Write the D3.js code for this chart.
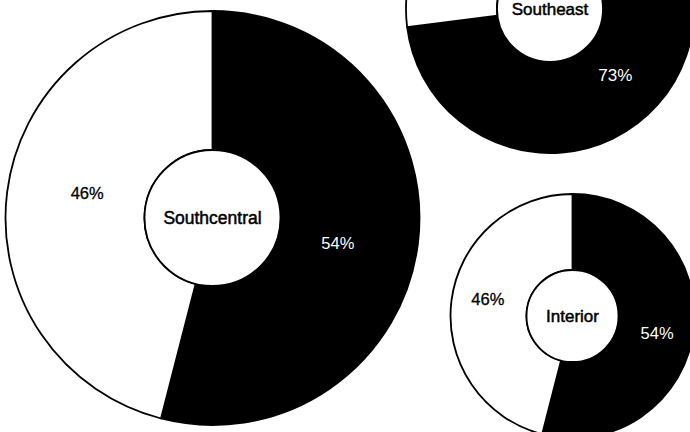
<!DOCTYPE html>
<html>
<head>
<meta charset="utf-8">
<script src="https://cdn.jsdelivr.net/npm/d3@7"></script>
<style>
  html, body { margin: 0; padding: 0; background: #fff; }
  svg { display: block; }
  text { font-family: "Liberation Sans", Arial, Helvetica, sans-serif; }
</style>
</head>
<body>
<svg id="chart" width="690" height="432"></svg>
<script>
// ---- data ----
const regions = ["Southcentral", "Southeast", "Interior"];
const blackShare = [54, 73, 54];
const whiteShare = [46, 27, 46];
const sliceKeys = ["black", "white"];

// ---- layout (positions / sizes) ----
const layout = [
  { cx: 212.5, cy: 218, rOut: 207, rIn: 68, labelFrac: 0.43, nameSize: 17.5, pctSize: 16.5 },
  { cx: 550,   cy: 9,   rOut: 144, rIn: 53, labelFrac: 0.44, nameSize: 17,   pctSize: 17 },
  { cx: 572.5, cy: 316, rOut: 122, rIn: 46, labelFrac: 0.53, nameSize: 17,   pctSize: 16.5 }
];
const labelTurn = 4 * Math.PI / 180;   // labels sit slightly clockwise of slice middle
const fillColor = { black: "#000", white: "#fff" };
const textColor = { black: "#fff", white: "#000" };
const W = 690, H = 432;

const svg = d3.select("#chart");
const pie = d3.pie().sort(null).value(d => d.value);

regions.forEach((name, i) => {
  const L = layout[i];
  const data = [
    { key: sliceKeys[0], value: blackShare[i] },
    { key: sliceKeys[1], value: whiteShare[i] }
  ];
  const arcs = pie(data);
  const arc = d3.arc().innerRadius(L.rIn).outerRadius(L.rOut);
  const labelR = L.rIn + L.labelFrac * (L.rOut - L.rIn);
  const labelPos = d => {
    const a = (d.startAngle + d.endAngle) / 2 + labelTurn;
    return [labelR * Math.sin(a), -labelR * Math.cos(a)];
  };

  const g = svg.append("g").attr("transform", `translate(${L.cx},${L.cy})`);

  g.selectAll("path.slice")
    .data(arcs)
    .join("path")
    .attr("class", "slice")
    .attr("d", arc)
    .attr("fill", d => fillColor[d.data.key])
    .attr("stroke", "#000")
    .attr("stroke-width", 1.8)
    .attr("stroke-linejoin", "round");

  // center hole
  g.append("circle")
    .attr("r", L.rIn)
    .attr("fill", "#fff")
    .attr("stroke", "#000")
    .attr("stroke-width", 1.8);

  g.append("text")
    .attr("text-anchor", "middle")
    .attr("x", 0)
    .attr("y", 0.35 * L.nameSize)
    .attr("font-size", L.nameSize)
    .attr("fill", "#000")
    .attr("stroke", "#000")
    .attr("stroke-width", 0.5)
    .text(name);

  // only labels that fall inside the picture (the rest lie beyond the cropped edge)
  const visible = arcs.filter(d => {
    const [x, y] = labelPos(d);
    return L.cy + y > 0 && L.cy + y < H && L.cx + x > 0 && L.cx + x < W;
  });

  g.selectAll("text.pct")
    .data(visible)
    .join("text")
    .attr("class", "pct")
    .attr("text-anchor", "middle")
    .attr("transform", d => {
      const [x, y] = labelPos(d);
      return `translate(${x},${y + 0.36 * L.pctSize})`;
    })
    .attr("font-size", L.pctSize)
    .attr("fill", d => textColor[d.data.key])
    .attr("stroke", d => d.data.key === "white" ? "#000" : "none")
    .attr("stroke-width", 0.3)
    .text(d => d.data.value + "%");
});
</script>
</body>
</html>
